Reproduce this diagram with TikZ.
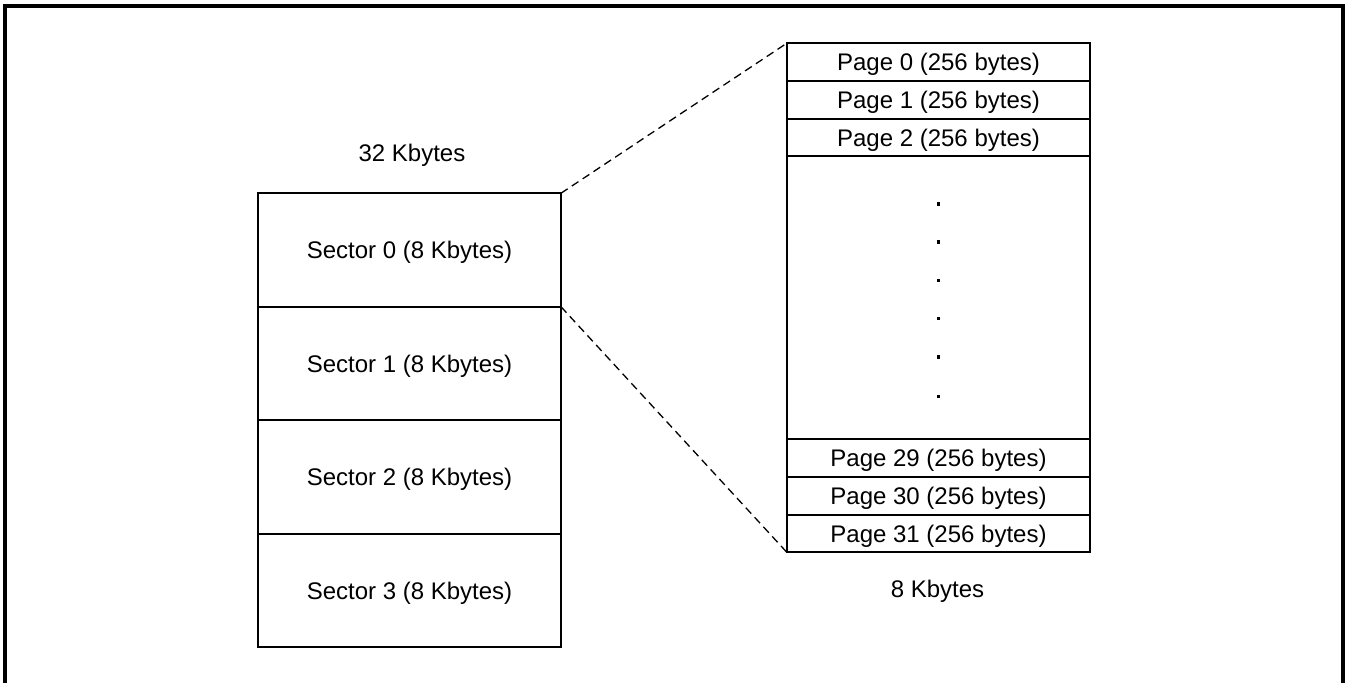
\documentclass[tikz,border=0pt]{standalone}
\usepackage{fontspec}
\setmainfont{Liberation Sans}
\begin{document}
\begin{tikzpicture}[x=0.5pt,y=-0.5pt,
  cell/.style={draw, line width=1pt, inner sep=0pt, outer sep=0pt, minimum width=151.5pt, text depth=0pt, font=\fontsize{12}{14}\selectfont},
  sector/.style={cell, minimum height=56.75pt},
  page/.style={cell, minimum height=18.9pt},
  lbl/.style={anchor=base, inner sep=0pt, font=\fontsize{12}{14}\selectfont},
  zoomline/.style={dashed, line width=0.65pt, dash pattern=on 4pt off 2.5pt},
  frame/.style={line width=1.7pt},
  dotmark/.style={fill=black, minimum size=1.6pt, inner sep=0pt, outer sep=0pt}]
\useasboundingbox (0,0) rectangle (1351,683);
\draw[frame] (5,690) -- (5,6) -- (1343,6) -- (1343,690);
% left column: sectors
\node[sector] (s0) at (409.5,250) {Sector 0 (8 Kbytes)};
\node[sector] (s1) at (409.5,363.5) {Sector 1 (8 Kbytes)};
\node[sector] (s2) at (409.5,477) {Sector 2 (8 Kbytes)};
\node[sector] (s3) at (409.5,590.5) {Sector 3 (8 Kbytes)};
\node[lbl] (k32) at (412,161.5) {32 Kbytes};
% right column: pages
\node[page] (p0) at (938.5,62) {Page 0 (256 bytes)};
\node[page] (p1) at (938.5,99.8) {Page 1 (256 bytes)};
\node[page] (p2) at (938.5,137.6) {Page 2 (256 bytes)};
\node[cell, minimum height=141.6pt] (mid) at (938.5,297.7) {};
\node[page] (p29) at (938.5,458) {Page 29 (256 bytes)};
\node[page] (p30) at (938.5,495.8) {Page 30 (256 bytes)};
\node[page] (p31) at (938.5,533.6) {Page 31 (256 bytes)};
\node[lbl] (k8) at (937.5,598) {8 Kbytes};
% dots
\foreach \yy [count=\i] in {204,242,280.5,318.7,357,396.3}
  \node[dotmark] (d\i) at (938.3,\yy) {};
% zoom lines
\draw[zoomline] (s0.north east) -- (p0.north west);
\draw[zoomline] (s0.south east) -- (p31.south west);
\end{tikzpicture}
\end{document}
